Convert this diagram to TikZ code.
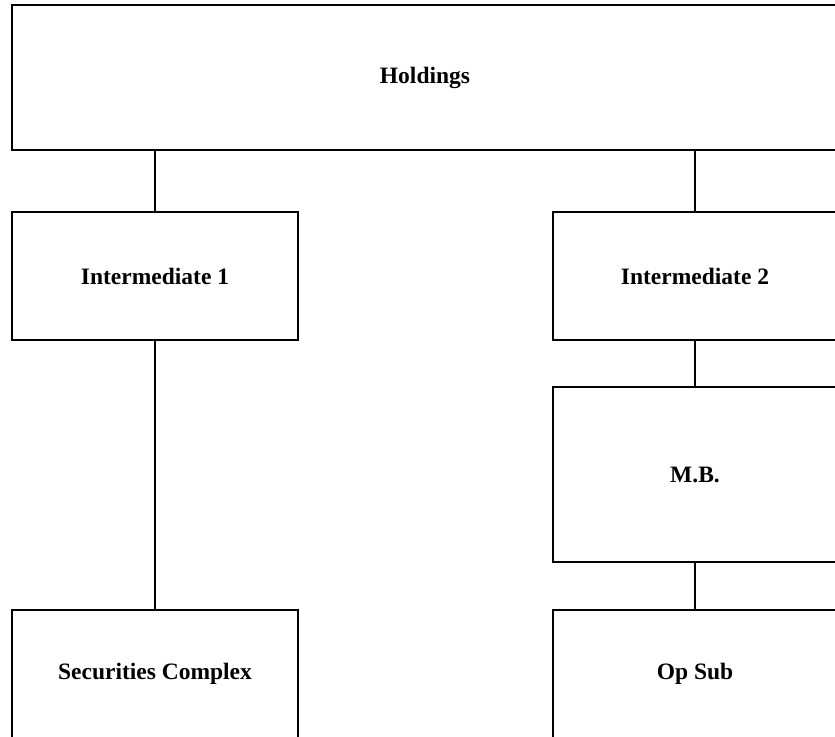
\documentclass[tikz,border=0pt]{standalone}
\usepackage{fontspec}
\setmainfont{Liberation Serif}
\begin{document}
\begin{tikzpicture}[x=1pt,y=-1pt,
  box/.style={draw, line width=1.8pt, rectangle, inner sep=0pt},
  lbl/.style={font=\bfseries\fontsize{23.5}{26}\selectfont, inner sep=0pt},
  link/.style={line width=1.8pt}]
\useasboundingbox (0,0) rectangle (835,736);
\clip (0,0) rectangle (835,736);
% top level
\node[box, lbl, minimum width=826pt, minimum height=145pt] (hold) at (425,77.5) {Holdings};
% second level
\node[box, lbl, minimum width=286pt, minimum height=128pt] (int1) at (155,276) {Intermediate 1};
\node[box, lbl, minimum width=284pt, minimum height=128pt] (int2) at (695,276) {Intermediate 2};
\node[box, lbl, minimum width=284pt, minimum height=175pt] (mb) at (695,474.5) {M.B.};
% bottom level (frames run past the lower edge)
\node[box, minimum width=286pt, minimum height=150pt, anchor=north] (sec) at (155,609) {};
\node[lbl, anchor=base] (seclbl) at (155,679) {Securities Complex};
\node[box, minimum width=284pt, minimum height=150pt, anchor=north] (op) at (695,609) {};
\node[lbl, anchor=base] (oplbl) at (695,679) {Op Sub};
% connectors
\draw[link] (hold.south -| int1.north) -- (int1.north);
\draw[link] (hold.south -| int2.north) -- (int2.north);
\draw[link] (int1.south) -- (sec.north);
\draw[link] (int2.south) -- (mb.north);
\draw[link] (mb.south) -- (op.north);
\end{tikzpicture}
\end{document}
